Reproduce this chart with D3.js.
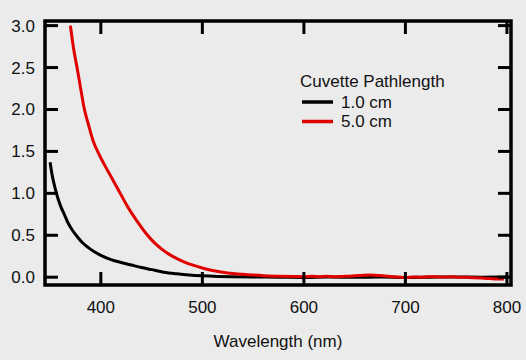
<!DOCTYPE html>
<html>
<head>
<meta charset="utf-8">
<script src="https://cdn.jsdelivr.net/npm/d3@7"></script>
<style>
  html, body { margin: 0; padding: 0; background: #ebebeb; }
  svg { display: block; }
  text { font-family: "Liberation Sans", Arial, sans-serif; fill: #111; }
</style>
</head>
<body>
<svg id="chart" width="526" height="360"></svg>
<script>
const xTicks = [400, 500, 600, 700, 800];
const yTicks = [0.0, 0.5, 1.0, 1.5, 2.0, 2.5, 3.0];
const xTitle = "Wavelength (nm)";
const legendTitle = "Cuvette Pathlength";
const seriesNames = ["1.0 cm", "5.0 cm"];
const seriesColors = ["#000000", "#e00000"];

const blackWl  = [350, 352, 355, 358, 361, 364, 368, 372, 377, 382, 388, 394, 400, 410, 420, 430, 440, 450, 462, 475, 487, 500, 515, 530, 550, 575, 600, 625, 650, 675, 700, 725, 750, 775, 800];
const blackAbs = [1.37, 1.22, 1.06, 0.93, 0.83, 0.75, 0.64, 0.56, 0.48, 0.41, 0.35, 0.30, 0.26, 0.21, 0.175, 0.145, 0.115, 0.09, 0.06, 0.04, 0.026, 0.016, 0.009, 0.005, 0.002, 0.0, -0.003, 0.001, -0.002, 0.002, -0.003, 0.0, 0.003, 0.0, 0.002];

const redWl  = [370, 373, 377, 380, 383.5, 388, 392, 398, 404, 410, 415, 420, 425, 430, 435, 440, 445, 450, 455, 460, 467, 475, 483, 490, 500, 510, 520, 530, 545, 560, 575, 590, 600, 608, 615, 622, 630, 638, 645, 655, 665, 675, 685, 693, 700, 708, 715, 722, 730, 738, 745, 752, 760, 768, 775, 783, 790, 797];
const redAbs = [3.0, 2.74, 2.47, 2.26, 2.02, 1.81, 1.64, 1.47, 1.33, 1.20, 1.09, 0.98, 0.87, 0.77, 0.68, 0.595, 0.515, 0.445, 0.385, 0.335, 0.275, 0.222, 0.178, 0.147, 0.11, 0.08, 0.06, 0.045, 0.03, 0.018, 0.012, 0.008, 0.006, 0.01, 0.006, 0.011, 0.005, 0.009, 0.012, 0.02, 0.027, 0.02, 0.008, 0.002, -0.005, 0.003, 0.0, 0.006, 0.005, 0.001, 0.006, 0.0, -0.002, -0.006, -0.01, -0.015, -0.022, -0.02];

const svg = d3.select("#chart");
const L = 45, R = 511, T = 21, B = 285;

const x = d3.scaleLinear().domain([345, 804]).range([L, R]);
const y = d3.scaleLinear().domain([-0.093, 3.055]).range([B, T]);

const tickLen = 13;
const axisColor = "#000";

// y tick labels
svg.selectAll(".ylab").data(yTicks).enter().append("text")
  .attr("x", 35).attr("y", d => y(d) + 6)
  .attr("text-anchor", "end").attr("font-size", 17)
  .text(d => d3.format(".1f")(d));

// x tick labels
svg.selectAll(".xlab").data(xTicks).enter().append("text")
  .attr("x", d => x(d)).attr("y", 313)
  .attr("text-anchor", "middle").attr("font-size", 17)
  .text(d => d);

svg.append("text").attr("x", (L + R) / 2).attr("y", 347)
  .attr("text-anchor", "middle").attr("font-size", 17).text(xTitle);

// data lines
const line = d3.line().x(d => x(d[0])).y(d => y(d[1])).curve(d3.curveMonotoneX);
const series = [
  d3.zip(blackWl, blackAbs),
  d3.zip(redWl, redAbs)
];
const g = svg.append("g");
g.append("path").datum(series[0]).attr("d", line)
  .attr("fill", "none").attr("stroke", seriesColors[0]).attr("stroke-width", 3).attr("stroke-linejoin", "round");
g.append("path").datum(series[1]).attr("d", line)
  .attr("fill", "none").attr("stroke", seriesColors[1]).attr("stroke-width", 3).attr("stroke-linejoin", "round");

// ticks (inward, all four sides)
const tg = svg.append("g").attr("stroke", axisColor).attr("stroke-width", 3);
yTicks.forEach(v => {
  tg.append("line").attr("x1", L).attr("x2", L + tickLen).attr("y1", y(v)).attr("y2", y(v));
  tg.append("line").attr("x1", R).attr("x2", R - tickLen).attr("y1", y(v)).attr("y2", y(v));
});
xTicks.forEach(v => {
  tg.append("line").attr("x1", x(v)).attr("x2", x(v)).attr("y1", B).attr("y2", B - tickLen);
  tg.append("line").attr("x1", x(v)).attr("x2", x(v)).attr("y1", T).attr("y2", T + tickLen);
});

// frame
svg.append("rect").attr("x", L).attr("y", T).attr("width", R - L).attr("height", B - T)
  .attr("fill", "none").attr("stroke", axisColor).attr("stroke-width", 3.5);

// legend
const lg = svg.append("g");
lg.append("text").attr("x", 300).attr("y", 87).attr("font-size", 17).text(legendTitle);
seriesNames.forEach((n, i) => {
  const yy = 102 + i * 19.5;
  lg.append("line").attr("x1", 302).attr("x2", 333).attr("y1", yy).attr("y2", yy)
    .attr("stroke", seriesColors[i]).attr("stroke-width", 3.5);
  lg.append("text").attr("x", 341).attr("y", yy + 5.5).attr("font-size", 17).text(n);
});
</script>
</body>
</html>
